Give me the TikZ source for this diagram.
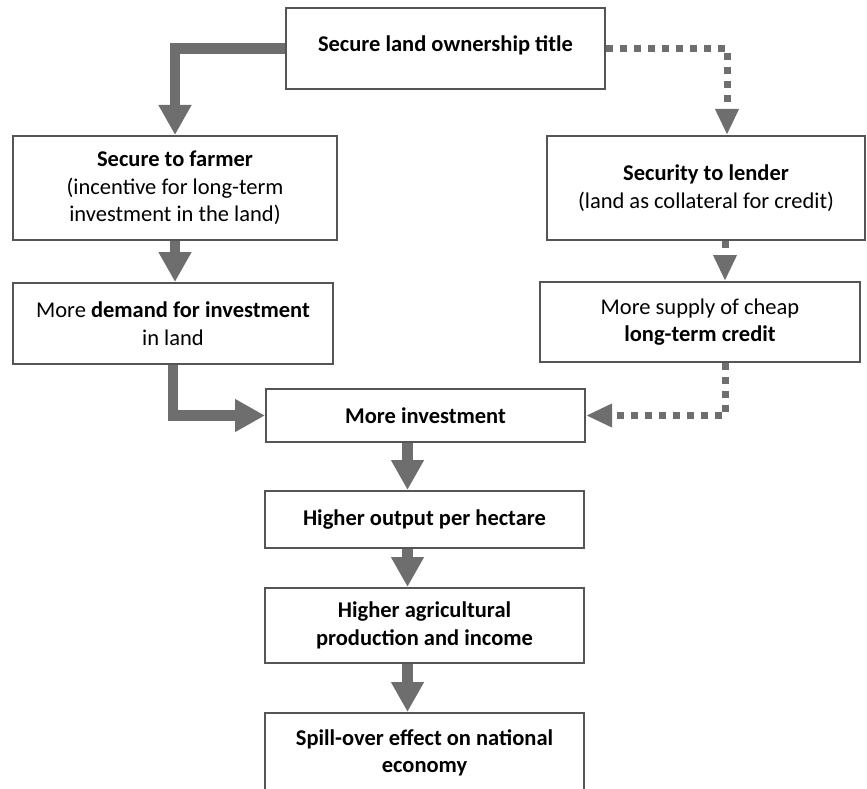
\documentclass[tikz,border=0pt]{standalone}
\usepackage{fontspec}
\setmainfont{Carlito}
\usetikzlibrary{arrows.meta}
\definecolor{arr}{RGB}{110,110,110}
\definecolor{bord}{RGB}{85,85,85}
\begin{document}
\begin{tikzpicture}[x=1pt,y=-1pt,
 boxst/.style={draw=bord,line width=2pt,fill=white,inner sep=0pt,align=center,font=\fontsize{22.5}{27.5}\selectfont},
 solidarr/.style={draw=arr,line width=10.5pt,-{Triangle[width=31pt,length=30pt]}},
 dotarr/.style={draw=arr,line width=7pt,dash pattern=on 7pt off 7pt,-{Triangle[width=22pt,length=26pt]}}]
\useasboundingbox (0,0) rectangle (867,789);

\node[boxst,minimum width=319pt,minimum height=81pt] (top) at (445.5,48.5) {\raisebox{10pt}{\textbf{Secure land ownership title}}};
\node[boxst,minimum width=324pt,minimum height=104pt] (farmer) at (175,188) {\textbf{Secure to farmer}\\(incentive for long-term\\investment in the land)};
\node[boxst,minimum width=318pt,minimum height=104pt] (lender) at (706,188) {\textbf{Security to lender}\\(land as collateral for credit)};
\node[boxst,minimum width=320pt,minimum height=81pt] (demand) at (173,323.5) {More \textbf{demand for investment}\\in land};
\node[boxst,minimum width=320pt,minimum height=80pt] (supply) at (700,322) {More supply of cheap\\\textbf{long-term credit}};
\node[boxst,minimum width=319pt,minimum height=53pt] (invest) at (425.5,415.5) {\textbf{More investment}};
\node[boxst,minimum width=319pt,minimum height=57pt] (output) at (424.5,519.5) {\textbf{Higher output per hectare}};
\node[boxst,minimum width=319pt,minimum height=75pt] (agri) at (424.5,625.5) {\textbf{Higher agricultural}\\\textbf{production and income}};
\node[boxst,minimum width=319pt,minimum height=80pt] (spill) at (424.5,753) {\textbf{Spill-over effect on national}\\\textbf{economy}};

\draw[solidarr] (top.west) -| (farmer.north);
\draw[dotarr] (top.east) -| ([xshift=21pt]lender.north);
\draw[solidarr] (farmer.south) -- (farmer.south |- demand.north);
\draw[dotarr] ([xshift=19pt]lender.south) -- ([xshift=19pt]lender.south |- supply.north);
\draw[solidarr] (demand.south) |- (invest.west);
\draw[dotarr] ([xshift=25pt]supply.south) |- (invest.east);
\draw[solidarr] ([xshift=-18pt]invest.south) -- ([xshift=-18pt]invest.south |- output.north);
\draw[solidarr] ([xshift=-17pt]output.south) -- ([xshift=-17pt]output.south |- agri.north);
\draw[solidarr] ([xshift=-17pt]agri.south) -- ([xshift=-17pt]agri.south |- spill.north);
\end{tikzpicture}
\end{document}
